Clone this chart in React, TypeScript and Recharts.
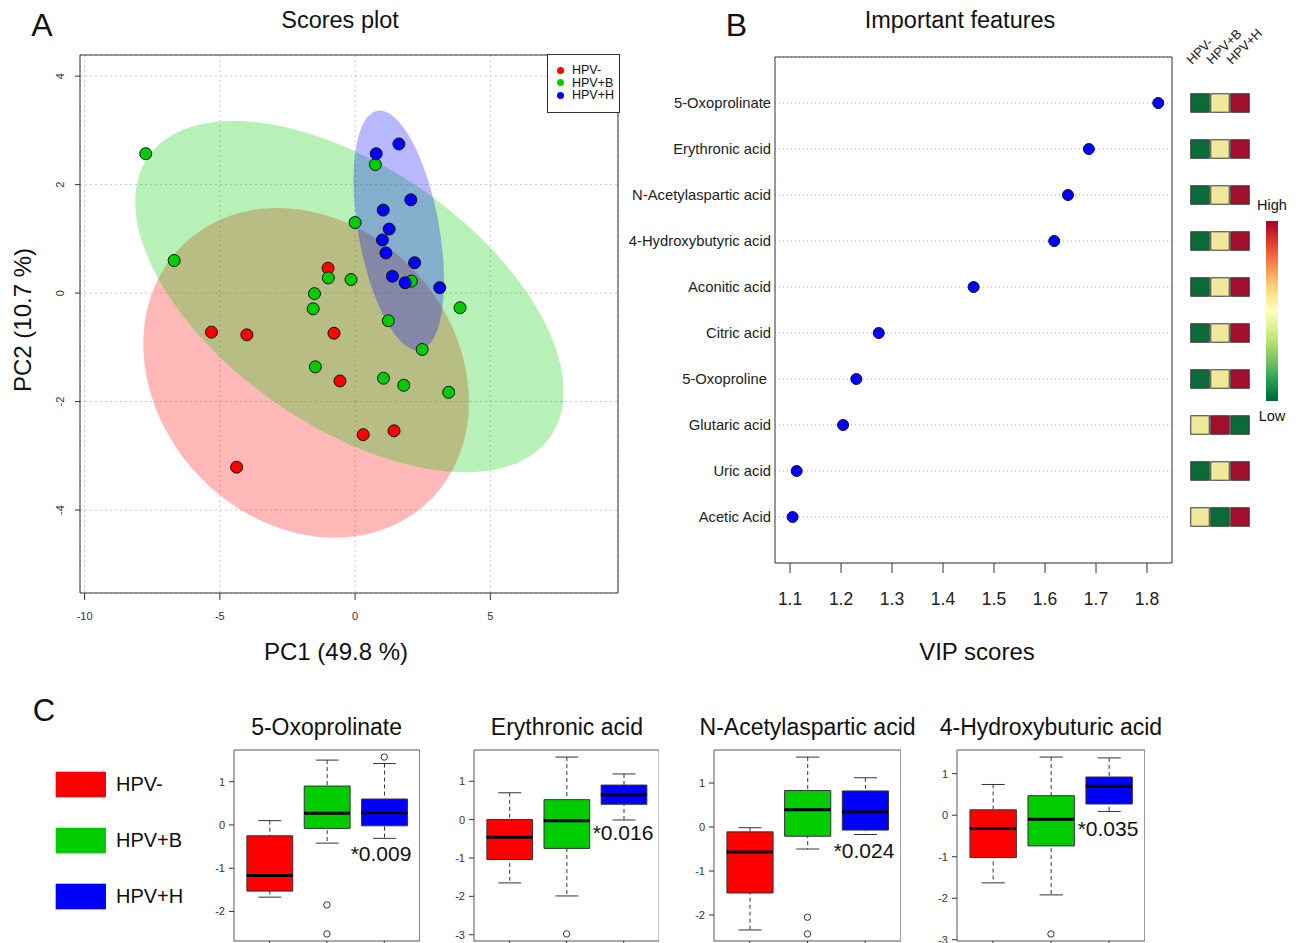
import React from 'react';
import {
  Bar,
  CartesianGrid,
  Cell,
  ComposedChart,
  ReferenceArea,
  Scatter,
  ScatterChart,
  XAxis,
  YAxis
} from 'recharts';

const FONT = '"Liberation Sans", Arial, Helvetica, sans-serif';

const groups = ['HPV-', 'HPV+B', 'HPV+H'];
const groupColors = ['#ff0000', '#00cc00', '#0000ff'];

// Panel A: PCA scores (PC1, PC2) per group
const negPC1 = [-1.0, -5.31, -4.0, -0.78, -0.56, 0.3, 1.44, -4.38];
const negPC2 = [0.46, -0.72, -0.77, -0.74, -1.62, -2.61, -2.54, -3.21];
const benPC1 = [-7.74, -6.69, 0.75, 0.0, -0.99, -0.15, -1.5, -1.55, 2.08, 3.88, 1.23, 2.48, -1.47, 1.05, 1.8, 3.46];
const benPC2 = [2.57, 0.6, 2.37, 1.3, 0.28, 0.25, -0.01, -0.29, 0.22, -0.27, -0.51, -1.04, -1.36, -1.57, -1.7, -1.83];
const highPC1 = [1.62, 0.78, 2.06, 1.04, 1.26, 1.01, 1.14, 2.2, 1.38, 1.85, 3.13];
const highPC2 = [2.75, 2.57, 1.72, 1.53, 1.18, 0.98, 0.74, 0.56, 0.31, 0.19, 0.1];

// confidence ellipses: centre, half ranges and correlation (HPV-, HPV+B, HPV+H)
const ellCenterX = [-1.81, -0.21, 1.615];
const ellCenterY = [-1.47, -0.065, 1.155];
const ellHalfX = [6.02, 7.92, 1.67];
const ellHalfY = [3.04, 3.24, 2.21];
const ellCorr = [-0.175, -0.54, -0.42];

const pcXTicks = [-10, -5, 0, 5];
const pcYTicks = [-4, -2, 0, 2, 4];

// Panel B: VIP scores
const featureNames = [
  '5-Oxoprolinate',
  'Erythronic acid',
  'N-Acetylaspartic acid',
  '4-Hydroxybutyric acid',
  'Aconitic acid',
  'Citric acid',
  '5-Oxoproline\u00a0',
  'Glutaric acid',
  'Uric acid',
  'Acetic Acid'
];
const vipScores = [1.822, 1.686, 1.645, 1.618, 1.46, 1.274, 1.23, 1.204, 1.113, 1.105];
const featureLevels = [
  ['low', 'mid', 'high'],
  ['low', 'mid', 'high'],
  ['low', 'mid', 'high'],
  ['low', 'mid', 'high'],
  ['low', 'mid', 'high'],
  ['low', 'mid', 'high'],
  ['low', 'mid', 'high'],
  ['mid', 'high', 'low'],
  ['low', 'mid', 'high'],
  ['mid', 'low', 'high']
];
const vipTicks = [1.1, 1.2, 1.3, 1.4, 1.5, 1.6, 1.7, 1.8];
const levelColors: Record<string, string> = { low: '#0b6b38', mid: '#efe99c', high: '#a50f2e' };

// Panel C: [lower whisker, Q1, median, Q3, upper whisker] for HPV-, HPV+B, HPV+H
const oxoprolinateBox = [
  [-1.67, -1.53, -1.17, -0.25, 0.1],
  [-0.42, -0.08, 0.27, 0.9, 1.5],
  [-0.31, -0.02, 0.28, 0.6, 1.42]
];
const oxoprolinateOut = [[], [-1.85, -2.52], [1.57]];
const erythronicBox = [
  [-1.65, -1.04, -0.46, 0.0, 0.7],
  [-1.99, -0.75, -0.03, 0.52, 1.63],
  [-0.01, 0.4, 0.65, 0.9, 1.19]
];
const erythronicOut = [[], [-2.98], []];
const acetylaspBox = [
  [-2.34, -1.5, -0.57, -0.11, -0.015],
  [-0.5, -0.21, 0.39, 0.83, 1.59],
  [-0.17, -0.07, 0.34, 0.82, 1.12]
];
const acetylaspOut = [[], [-2.05, -2.43], []];
const hydroxyBox = [
  [-1.63, -1.02, -0.32, 0.13, 0.74],
  [-1.92, -0.74, -0.1, 0.47, 1.4],
  [0.09, 0.27, 0.7, 0.92, 1.38]
];
const hydroxyOut = [[], [-2.86], []];

const toPoints = (xs: number[], ys: number[]) => xs.map((x, i) => ({ x, y: ys[i] }));
const scoreSets = [toPoints(negPC1, negPC2), toPoints(benPC1, benPC2), toPoints(highPC1, highPC2)];

function ellipseShape(rho: number, fill: string) {
  return (p: any) => {
    const w = Math.abs(p.width);
    const h = Math.abs(p.height);
    const cx = Math.min(p.x, p.x + p.width) + w / 2;
    const cy = Math.min(p.y, p.y + p.height) + h / 2;
    const s = Math.sqrt(1 - rho * rho);
    let d = '';
    for (let i = 0; i <= 120; i++) {
      const t = (i / 120) * Math.PI * 2;
      const px = cx + (w / 2) * Math.cos(t);
      const py = cy - (h / 2) * (rho * Math.cos(t) + s * Math.sin(t));
      d += (i ? 'L' : 'M') + px.toFixed(1) + ',' + py.toFixed(1);
    }
    return <path d={d + 'Z'} fill={fill} fillOpacity={0.28} stroke="none" />;
  };
}

const RotatedTick = ({ x, y, payload }: any) => (
  <text transform={`translate(${x - 3},${y}) rotate(-90)`} textAnchor="middle" fontSize={11} fill="#333">
    {payload.value}
  </text>
);

function ScoresPlot() {
  const xDom: [number, number] = [-10.17, 9.72];
  const yDom: [number, number] = [-5.53, 4.39];
  return (
    <ScatterChart width={640} height={670} margin={{ top: 55, right: 22, bottom: 0, left: 0 }}>
      <XAxis
        type="number"
        dataKey="x"
        domain={xDom}
        ticks={pcXTicks}
        allowDataOverflow
        height={77}
        axisLine={false}
        tickSize={7}
        tickMargin={12}
        tick={{ fontSize: 11, fill: '#333' }}
        stroke="#333"
      />
      <YAxis
        type="number"
        dataKey="y"
        domain={yDom}
        ticks={pcYTicks}
        allowDataOverflow
        width={80}
        axisLine={false}
        tickSize={5}
        tickMargin={8}
        tick={<RotatedTick />}
        stroke="#333"
      />
      {groups.map((g, i) => (
        <ReferenceArea
          key={g}
          x1={ellCenterX[i] - ellHalfX[i]}
          x2={ellCenterX[i] + ellHalfX[i]}
          y1={ellCenterY[i] - ellHalfY[i]}
          y2={ellCenterY[i] + ellHalfY[i]}
          ifOverflow="visible"
          shape={ellipseShape(ellCorr[i], groupColors[i])}
        />
      ))}
      <CartesianGrid strokeDasharray="2 3" stroke="#c8c8c8" />
      <ReferenceArea x1={xDom[0]} x2={xDom[1]} y1={yDom[0]} y2={yDom[1]} fill="none" stroke="#333" ifOverflow="visible" />
      {groups.map((g, i) => (
        <Scatter
          key={g}
          name={g}
          data={scoreSets[i]}
          fill={groupColors[i]}
          isAnimationActive={false}
          shape={(p: any) => <circle cx={p.cx} cy={p.cy} r={6} fill={groupColors[i]} stroke="#111" strokeWidth={1} />}
        />
      ))}
    </ScatterChart>
  );
}

const FeatureTick = ({ x, y, payload }: any) => (
  <text x={x} y={y} dy="0.355em" textAnchor="end" fontSize={14.8} fill="#222">
    {featureNames[payload.value - 1]}
  </text>
);

function VipPlot() {
  const xDom: [number, number] = [1.0705, 1.849];
  const data = vipScores.map((v, i) => ({ rank: i + 1, vip: v }));
  return (
    <ScatterChart width={600} height={670} margin={{ top: 57, right: 28, bottom: 0, left: 0 }}>
      <CartesianGrid vertical={false} strokeDasharray="1 3" stroke="#aaa" />
      <XAxis
        type="number"
        dataKey="vip"
        domain={xDom}
        ticks={vipTicks}
        allowDataOverflow
        height={107}
        axisLine={false}
        tickSize={10}
        tickMargin={20}
        tick={{ fontSize: 17.5, fill: '#222' }}
        stroke="#333"
      />
      <YAxis
        type="number"
        dataKey="rank"
        domain={[0, 11]}
        reversed
        ticks={featureNames.map((_, i) => i + 1)}
        width={175}
        axisLine={false}
        tickLine={false}
        tickSize={0}
        tickMargin={4}
        tick={<FeatureTick />}
        interval={0}
      />
      <ReferenceArea x1={xDom[0]} x2={xDom[1]} y1={0} y2={11} fill="none" stroke="#333" ifOverflow="visible" />
      <Scatter
        data={data}
        isAnimationActive={false}
        shape={(p: any) => <circle cx={p.cx} cy={p.cy} r={5.5} fill="#0000ff" stroke="#111133" strokeWidth={1} />}
      />
    </ScatterChart>
  );
}

const HeaderTick = ({ x, y, payload }: any) => (
  <text transform={`translate(${x - 8},${y + 8}) rotate(-45)`} fontSize={13} fill="#222">
    {groups[payload.value - 1]}
  </text>
);

function LevelMap() {
  const cells = featureLevels.flatMap((row, r) => row.map((lvl, c) => ({ col: c + 1, rank: r + 1, lvl })));
  return (
    <ScatterChart width={130} height={670} margin={{ top: 27, right: 50, bottom: 107, left: 20 }}>
      <XAxis
        type="number"
        dataKey="col"
        orientation="top"
        domain={[0.5, 3.5]}
        ticks={[1, 2, 3]}
        height={30}
        axisLine={false}
        tickLine={false}
        tickSize={0}
        tickMargin={0}
        interval={0}
        tick={<HeaderTick />}
      />
      <YAxis type="number" dataKey="rank" domain={[0, 11]} reversed hide />
      <Scatter
        data={cells}
        isAnimationActive={false}
        shape={(p: any) => (
          <rect
            x={p.cx - 9.25}
            y={p.cy - 9.25}
            width={18.5}
            height={18.5}
            fill={levelColors[p.payload.lvl]}
            stroke="#3a3a3a"
            strokeWidth={1}
          />
        )}
      />
    </ScatterChart>
  );
}

const whiskerShape = (p: any) => {
  const cx = p.x + p.width / 2;
  const cap = p.width / 4;
  return (
    <g stroke="#333" strokeWidth={1}>
      <line x1={cx} x2={cx} y1={p.y} y2={p.y + p.height} strokeDasharray="4 3" />
      <line x1={cx - cap} x2={cx + cap} y1={p.y} y2={p.y} />
      <line x1={cx - cap} x2={cx + cap} y1={p.y + p.height} y2={p.y + p.height} />
    </g>
  );
};

interface BoxPanelProps {
  box: number[][];
  out: number[][];
  left: number;
  spacing: number;
}

function BoxPanel({ box, out, left, spacing }: BoxPanelProps) {
  const rows = box.map((s, i) => ({ g: i + 1, lo: s[0], q1: s[1], med: s[2], q3: s[3], hi: s[4] }));
  const outPts = out.flatMap((vals, i) => vals.map((v) => ({ g: i + 1, v })));
  const all = [...box.flat(), ...out.flat()];
  const mn = Math.min(...all);
  const mx = Math.max(...all);
  const pad = (mx - mn) * 0.04;
  const yDom: [number, number] = [mn - pad, mx + pad];
  const yTicks: number[] = [];
  for (let t = Math.ceil(yDom[0]); t <= Math.floor(yDom[1]); t++) yTicks.push(t);
  const xDom: [number, number] = [0.38, 3.62];
  const axisW = 40;
  const plotW = spacing * 3.24;
  const bw = spacing * 0.8;
  return (
    <div style={{ position: 'absolute', left: left - axisW, top: 740 }}>
      <ComposedChart width={axisW + plotW} height={231} data={rows} margin={{ top: 10, right: 0, bottom: 0, left: 0 }}>
        <XAxis
          xAxisId="box"
          type="number"
          dataKey="g"
          domain={xDom}
          ticks={[1, 2, 3]}
          allowDataOverflow
          tickFormatter={() => ''}
          tickSize={6}
          height={30}
          axisLine={false}
          stroke="#333"
        />
        <XAxis xAxisId="whisker" type="number" dataKey="g" domain={xDom} ticks={[1, 2, 3]} allowDataOverflow hide />
        <YAxis
          type="number"
          domain={yDom}
          ticks={yTicks}
          allowDataOverflow
          width={axisW}
          axisLine={false}
          tickSize={5}
          tickMargin={4}
          tick={{ fontSize: 11, fill: '#333' }}
          stroke="#333"
        />
        <Bar xAxisId="whisker" dataKey={(d: any) => [d.lo, d.hi]} barSize={bw} shape={whiskerShape} isAnimationActive={false} />
        <Bar xAxisId="box" dataKey={(d: any) => [d.q1, d.q3]} barSize={bw} stroke="#333" strokeWidth={1} isAnimationActive={false}>
          {rows.map((r, i) => (
            <Cell key={r.g} fill={groupColors[i]} />
          ))}
        </Bar>
        <Scatter
          xAxisId="box"
          dataKey="med"
          isAnimationActive={false}
          shape={(p: any) => <line x1={p.cx - bw / 2} x2={p.cx + bw / 2} y1={p.cy} y2={p.cy} stroke="#000" strokeWidth={3} />}
        />
        <Scatter
          xAxisId="box"
          data={outPts}
          dataKey="v"
          isAnimationActive={false}
          shape={(p: any) => <circle cx={p.cx} cy={p.cy} r={3.2} fill="none" stroke="#333" strokeWidth={1} />}
        />
        <ReferenceArea xAxisId="box" x1={xDom[0]} x2={xDom[1]} y1={yDom[0]} y2={yDom[1]} fill="none" stroke="#555" ifOverflow="visible" />
      </ComposedChart>
    </div>
  );
}

const boxPanels = [
  { title: '5-Oxoprolinate', box: oxoprolinateBox, out: oxoprolinateOut, left: 233.7, spacing: 57.35, p: '*0.009', px: 381, py: 853 },
  { title: 'Erythronic acid', box: erythronicBox, out: erythronicOut, left: 474.3, spacing: 57.15, p: '*0.016', px: 623, py: 832 },
  { title: 'N-Acetylaspartic acid', box: acetylaspBox, out: acetylaspOut, left: 714.1, spacing: 57.7, p: '*0.024', px: 864, py: 850 },
  { title: '4-Hydroxybuturic acid', box: hydroxyBox, out: hydroxyOut, left: 957, spacing: 58, p: '*0.035', px: 1108, py: 828 }
];

export default function App() {
  return (
    <div
      style={{
        position: 'absolute',
        left: 0,
        top: 0,
        width: 1299,
        height: 943,
        overflow: 'hidden',
        background: '#fff',
        fontFamily: FONT
      }}
    >
      <div style={{ position: 'absolute', left: 0, top: 0 }}>
        <ScoresPlot />
      </div>
      <div style={{ position: 'absolute', left: 600, top: 0 }}>
        <VipPlot />
      </div>
      <div
        style={{
          position: 'absolute',
          left: 547,
          top: 54,
          width: 73,
          height: 59,
          boxSizing: 'border-box',
          border: '1px solid #333',
          background: '#fff',
          padding: '9px 0 0 9px',
          fontSize: 12.5,
          color: '#111'
        }}
      >
        {groups.map((g, i) => (
          <div key={g} style={{ display: 'flex', alignItems: 'center', height: 12.5 }}>
            <span style={{ width: 7, height: 7, borderRadius: '50%', background: groupColors[i], display: 'inline-block' }} />
            <span style={{ marginLeft: 8, lineHeight: '12.5px' }}>{g}</span>
          </div>
        ))}
      </div>
      <div style={{ position: 'absolute', left: 1170, top: 0 }}>
        <LevelMap />
      </div>
      <div
        style={{
          position: 'absolute',
          left: 1266,
          top: 221,
          width: 12,
          height: 180,
          background:
            'linear-gradient(to bottom, #a50026, #d73027, #f46d43, #fdae61, #fee08b, #ffffbf, #d9ef8b, #a6d96a, #66bd63, #1a9850, #006837)'
        }}
      />
      {boxPanels.map((b) => (
        <BoxPanel key={b.title} box={b.box} out={b.out} left={b.left} spacing={b.spacing} />
      ))}
      <svg
        width={1299}
        height={943}
        style={{ position: 'absolute', left: 0, top: 0, pointerEvents: 'none' }}
        fontFamily={FONT}
        fill="#111"
      >
        <text x={42} y={36} fontSize={32} textAnchor="middle">A</text>
        <text x={340} y={28} fontSize={23.5} textAnchor="middle">Scores plot</text>
        <text transform="translate(31,320) rotate(-90)" fontSize={24} textAnchor="middle">PC2 (10.7 %)</text>
        <text x={336} y={659.5} fontSize={24} textAnchor="middle">PC1 (49.8 %)</text>
        <text x={736.5} y={36} fontSize={32} textAnchor="middle">B</text>
        <text x={960} y={28} fontSize={23.5} textAnchor="middle">Important features</text>
        <text x={977} y={660} fontSize={24} textAnchor="middle">VIP scores</text>
        <text x={1272} y={210} fontSize={14.5} textAnchor="middle">High</text>
        <text x={1272} y={421} fontSize={14.5} textAnchor="middle">Low</text>
        <text x={44} y={721} fontSize={31} textAnchor="middle">C</text>
        {groups.map((g, i) => (
          <g key={g}>
            <rect x={55.7} y={771.7 + i * 56} width={50.3} height={25.6} fill={groupColors[i]} />
            <text x={116} y={791 + i * 56} fontSize={20}>{g}</text>
          </g>
        ))}
        {boxPanels.map((b) => (
          <g key={b.title}>
            <text x={b.left + (b.spacing * 3.24) / 2} y={735} fontSize={23} textAnchor="middle">{b.title}</text>
            <text x={b.px} y={b.py + 7.5} fontSize={21} textAnchor="middle">{b.p}</text>
          </g>
        ))}
      </svg>
    </div>
  );
}
